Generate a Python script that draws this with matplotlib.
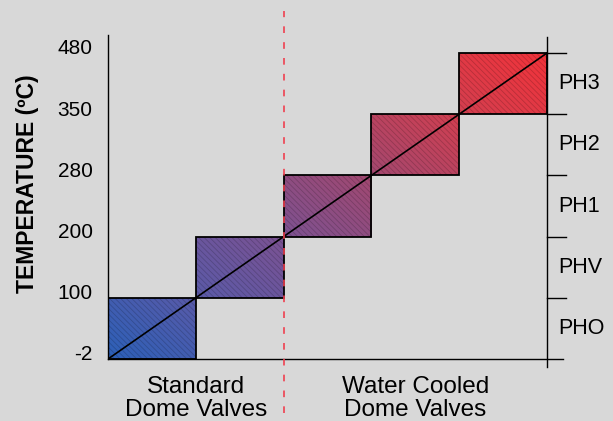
import matplotlib.pyplot as plt
import numpy as np
from matplotlib.colors import LinearSegmentedColormap
from matplotlib.patches import Rectangle
from matplotlib.transforms import ScaledTranslation

temps = [-2, 100, 200, 280, 350, 480]
grades = ["PHO", "PHV", "PH1", "PH2", "PH3"]
groups = ["Standard\nDome Valves", "Water Cooled\nDome Valves"]
n_standard = 2  # first two ranges are standard dome valves

plt.rcParams['font.family'] = ['Liberation Sans', 'DejaVu Sans']
plt.rcParams['hatch.linewidth'] = 0.6
bg = "#d8d8d8"

fig = plt.figure(figsize=(6.13, 4.21), dpi=100, facecolor=bg)
ax = fig.add_axes([108/613, 62/421, 455/613, 324/421])
ax.set_facecolor(bg)

n = len(grades)
ax.set_xlim(0, n * 455 / 439)
ax.set_ylim(0, n * 324 / 306)

cmap = LinearSegmentedColormap.from_list(
    "valve", ["#2c60b8", "#5a5aa8", "#7c5292", "#a24870", "#d23f50", "#f2333a"])
gx, gy = np.meshgrid(np.linspace(0, 1, 300), np.linspace(0, 1, 300))
grad = (gx + gy) / 2

for i in range(n):
    rect = Rectangle((i, i), 1, 1, facecolor="none", edgecolor="none")
    ax.add_patch(rect)
    im = ax.imshow(grad, cmap=cmap, extent=(0, n, 0, n), origin="lower",
                   aspect="auto", interpolation="bilinear", zorder=1)
    im.set_clip_path(rect)
    ax.add_patch(Rectangle((i, i), 1, 1, facecolor="none", edgecolor=(0, 0, 0, 0.18),
                           hatch="\\\\\\\\\\\\", linewidth=0, zorder=2))
    ax.add_patch(Rectangle((i, i), 1, 1, facecolor="none", edgecolor="black",
                           linewidth=1.3, zorder=3))

ax.plot([0, n], [0, n], color="black", linewidth=1.2, zorder=4)

# red divider between standard and water cooled
ax.plot([n_standard, n_standard], [-0.88, 5.68], color="#f04050",
        linestyle=(0, (4, 5.5)), linewidth=1.2, clip_on=False, zorder=5)

for s in ["top", "right"]:
    ax.spines[s].set_visible(False)
ax.spines["left"].set_linewidth(1.0)
ax.spines["bottom"].set_linewidth(1.0)

# right axis with grade ticks
ax.plot([n, n], [-0.13, ax.get_ylim()[1] - 0.03], color="black", linewidth=1.0,
        clip_on=False, zorder=5)
for k in range(1, n + 1):
    ax.plot([n, n + 0.215], [k, k], color="black", linewidth=1.0, clip_on=False, zorder=5)
for k, g in enumerate(grades):
    ax.text(n + 0.13, k + 0.5, g, fontsize=15.5, ha="left", va="center")

ax.set_yticks(range(n + 1))
ax.set_yticklabels([str(t) for t in temps], fontsize=15, va="center")
ax.tick_params(axis="y", length=0, pad=11)
up = ScaledTranslation(0, 4 / 100, fig.dpi_scale_trans)
for lab in ax.get_yticklabels():
    lab.set_transform(lab.get_transform() + up)
ax.set_xticks([])
ax.text(-0.176, 0.542, "TEMPERATURE (ºC)", transform=ax.transAxes, rotation=90,
        ha="center", va="center", fontsize=16.5, fontweight="bold")

ax.text(n_standard / 2, -0.27, groups[0], ha="center", va="top", fontsize=17.5,
        linespacing=1.08)
ax.text((n_standard + n) / 2, -0.27, groups[1], ha="center", va="top", fontsize=17.5,
        linespacing=1.08)

fig.savefig("out.png", dpi=100, facecolor=bg)
